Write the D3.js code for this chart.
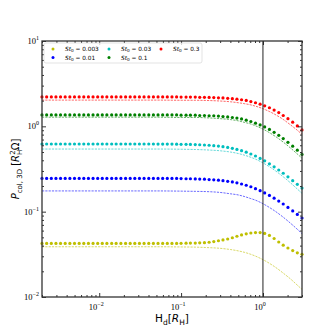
<!DOCTYPE html>
<html>
<head>
  <style>
    body { margin: 0; background: #fff; }
    text { font-family: "DejaVu Sans", sans-serif; }
    .tick-label { font-family: "Liberation Serif", "DejaVu Serif", serif; }
  </style>
  <script src="https://d3js.org/d3.v7.min.js"></script>
</head>
<body>
  <svg id="chart" width="336" height="336"></svg>
  <script>
    // Stokes numbers, colours (matplotlib y, b, c, g, r)
    const stValues = ["0.003", "0.01", "0.03", "0.1", "0.3"];
    const colors = ["#bfbf00", "#0000ff", "#00bfbf", "#008000", "#ff0000"];

    // H_d grid of the dotted series
    const hd = [0.00200, 0.00228, 0.00260, 0.00296, 0.00337, 0.00384, 0.00438, 0.00499, 0.00569, 0.00648,
      0.00738, 0.00841, 0.00958, 0.0109, 0.0124, 0.0142, 0.0161, 0.0184, 0.0210, 0.0239,
      0.0272, 0.0310, 0.0353, 0.0403, 0.0459, 0.0523, 0.0596, 0.0679, 0.0774, 0.0882,
      0.100, 0.115, 0.130, 0.149, 0.169, 0.193, 0.220, 0.251, 0.286, 0.325,
      0.371, 0.423, 0.481, 0.548, 0.625, 0.712, 0.811, 0.924, 1.05, 1.20,
      1.37, 1.56, 1.77, 2.02, 2.31, 2.63, 3.00];

    const dotsSt0003 = [0.0424, 0.0424, 0.0424, 0.0424, 0.0424, 0.0424, 0.0424, 0.0424, 0.0424, 0.0424,
      0.0424, 0.0424, 0.0424, 0.0424, 0.0424, 0.0424, 0.0424, 0.0424, 0.0424, 0.0424,
      0.0424, 0.0424, 0.0424, 0.0424, 0.0424, 0.0424, 0.0424, 0.0424, 0.0424, 0.0425,
      0.0426, 0.0427, 0.0428, 0.0429, 0.0431, 0.0433, 0.0438, 0.0446, 0.0456, 0.0466,
      0.0478, 0.0495, 0.0515, 0.0534, 0.0550, 0.0562, 0.0569, 0.0569, 0.0556, 0.0527,
      0.0485, 0.0441, 0.0405, 0.0375, 0.0350, 0.0329, 0.0316];
    const dotsSt001 = [0.245, 0.245, 0.245, 0.245, 0.245, 0.245, 0.245, 0.245, 0.245, 0.245,
      0.245, 0.245, 0.245, 0.245, 0.245, 0.245, 0.245, 0.245, 0.245, 0.245,
      0.245, 0.245, 0.245, 0.245, 0.245, 0.245, 0.245, 0.245, 0.245, 0.245,
      0.244, 0.243, 0.243, 0.242, 0.241, 0.240, 0.238, 0.236, 0.234, 0.231,
      0.227, 0.223, 0.218, 0.211, 0.204, 0.196, 0.186, 0.176, 0.166, 0.155,
      0.144, 0.133, 0.123, 0.112, 0.102, 0.0929, 0.0843];
    const dotsSt003 = [0.621, 0.621, 0.621, 0.621, 0.621, 0.621, 0.621, 0.621, 0.621, 0.621,
      0.621, 0.621, 0.621, 0.621, 0.621, 0.621, 0.621, 0.621, 0.621, 0.621,
      0.621, 0.621, 0.621, 0.621, 0.621, 0.620, 0.620, 0.620, 0.619, 0.618,
      0.616, 0.615, 0.613, 0.611, 0.608, 0.604, 0.600, 0.594, 0.587, 0.578,
      0.566, 0.553, 0.537, 0.519, 0.498, 0.474, 0.449, 0.421, 0.394, 0.364,
      0.335, 0.308, 0.282, 0.256, 0.231, 0.209, 0.189];
    const dotsSt01 = [1.36, 1.36, 1.36, 1.36, 1.36, 1.36, 1.36, 1.36, 1.36, 1.36,
      1.36, 1.36, 1.36, 1.36, 1.36, 1.36, 1.36, 1.36, 1.36, 1.36,
      1.36, 1.36, 1.36, 1.36, 1.36, 1.36, 1.36, 1.36, 1.36, 1.36,
      1.35, 1.35, 1.35, 1.35, 1.34, 1.34, 1.33, 1.33, 1.32, 1.30,
      1.29, 1.27, 1.25, 1.22, 1.18, 1.14, 1.09, 1.04, 0.984, 0.919,
      0.851, 0.784, 0.718, 0.650, 0.585, 0.525, 0.468];
    const dotsSt03 = [2.21, 2.21, 2.21, 2.21, 2.21, 2.21, 2.21, 2.21, 2.21, 2.21,
      2.21, 2.21, 2.21, 2.21, 2.21, 2.21, 2.21, 2.21, 2.21, 2.21,
      2.21, 2.21, 2.21, 2.21, 2.21, 2.21, 2.21, 2.21, 2.21, 2.21,
      2.20, 2.20, 2.20, 2.20, 2.19, 2.19, 2.18, 2.17, 2.16, 2.15,
      2.13, 2.11, 2.08, 2.05, 2.01, 1.95, 1.89, 1.82, 1.74, 1.65,
      1.55, 1.45, 1.34, 1.23, 1.12, 1.01, 0.907];

    // dashed reference curves
    const hdLine = [0.002, 0.005, 0.01, 0.02, 0.05, 0.1, 0.15, 0.2, 0.3, 0.4, 0.5,
      0.6, 0.7, 0.8, 1.0, 1.2, 1.5, 1.8, 2.2, 2.6, 3.0];
    const lineSt0003 = [0.0388, 0.0388, 0.0388, 0.0388, 0.0388, 0.0386, 0.0384, 0.0380, 0.0372, 0.0360, 0.0347,
      0.0333, 0.0318, 0.0303, 0.0274, 0.0248, 0.0215, 0.0188, 0.0161, 0.0139, 0.0123];
    const lineSt001 = [0.175, 0.175, 0.175, 0.175, 0.175, 0.174, 0.173, 0.172, 0.168, 0.162, 0.157,
      0.150, 0.143, 0.137, 0.124, 0.112, 0.0971, 0.0850, 0.0724, 0.0628, 0.0553];
    const lineSt003 = [0.542, 0.542, 0.542, 0.542, 0.542, 0.539, 0.535, 0.530, 0.517, 0.500, 0.480,
      0.458, 0.436, 0.415, 0.373, 0.336, 0.290, 0.253, 0.215, 0.186, 0.164];
    const lineSt01 = [1.28, 1.28, 1.28, 1.28, 1.28, 1.27, 1.27, 1.26, 1.23, 1.20, 1.16,
      1.11, 1.07, 1.02, 0.927, 0.843, 0.734, 0.645, 0.551, 0.479, 0.423];
    const lineSt03 = [2.03, 2.03, 2.03, 2.03, 2.03, 2.02, 2.02, 2.01, 1.98, 1.94, 1.89,
      1.84, 1.79, 1.73, 1.61, 1.49, 1.33, 1.19, 1.03, 0.908, 0.807];

    // tick values / labels (exponents)
    const xMajor = [0.01, 0.1, 1];
    const xMajorExp = ["\u22122", "\u22121", "0"];
    const xMinor = [0.002, 0.003, 0.004, 0.005, 0.006, 0.007, 0.008, 0.009,
      0.02, 0.03, 0.04, 0.05, 0.06, 0.07, 0.08, 0.09,
      0.2, 0.3, 0.4, 0.5, 0.6, 0.7, 0.8, 0.9, 2, 3];
    const yMajor = [0.01, 0.1, 1, 10];
    const yMajorExp = ["\u22122", "\u22121", "0", "1"];
    const yMinor = [0.02, 0.03, 0.04, 0.05, 0.06, 0.07, 0.08, 0.09,
      0.2, 0.3, 0.4, 0.5, 0.6, 0.7, 0.8, 0.9, 2, 3, 4, 5, 6, 7, 8, 9];

    const dotSeries = [dotsSt0003, dotsSt001, dotsSt003, dotsSt01, dotsSt03];
    const lineSeries = [lineSt0003, lineSt001, lineSt003, lineSt01, lineSt03];

    const svg = d3.select("#chart");
    const mLeft = 42, mRight = 302, mTop = 41, mBottom = 297;

    const x = d3.scaleLog().domain([0.002, 3]).range([mLeft, mRight]);
    const y = d3.scaleLog().domain([0.01, 10]).range([mBottom, mTop]);

    svg.append("defs").append("clipPath").attr("id", "clip")
      .append("rect").attr("x", mLeft).attr("y", mTop)
      .attr("width", mRight - mLeft).attr("height", mBottom - mTop);

    // dashed lines
    const line = d3.line().x(function (d) { return x(d[0]) }).y(function (d) { return y(d[1]) })
      .curve(d3.curveMonotoneX);
    const plot = svg.append("g").attr("clip-path", "url(#clip)");
    lineSeries.forEach(function (vals, k) {
      plot.append("path")
        .attr("d", line(hdLine.map(function (h, i) { return [h, vals[i]] })))
        .attr("fill", "none")
        .attr("stroke", colors[k])
        .attr("stroke-width", 0.7)
        .attr("stroke-dasharray", "2.2,1.1")
        .attr("opacity", 0.85);
    });

    // dots
    dotSeries.forEach(function (vals, k) {
      svg.append("g").attr("fill", colors[k])
        .selectAll("circle")
        .data(hd.map(function (h, i) { return [h, vals[i]] }))
        .enter()
        .append("circle")
        .attr("cx", function (d) { return x(d[0]) })
        .attr("cy", function (d) { return y(d[1]) })
        .attr("r", 1.6);
    });

    // vertical line at H_d = R_H
    svg.append("line")
      .attr("x1", x(1)).attr("x2", x(1))
      .attr("y1", mTop).attr("y2", mBottom)
      .attr("stroke", "#222").attr("stroke-width", 1);

    // ticks, inward on all four sides
    function ticks(axisFn, scale, vals, size, transform) {
      const g = svg.append("g").attr("transform", transform)
        .call(axisFn(scale).tickValues(vals).tickSizeInner(-size).tickSizeOuter(0).tickFormat(""));
      g.select(".domain").remove();
      g.selectAll("line").attr("stroke", "#000").attr("stroke-width", 0.8);
    }
    ticks(d3.axisBottom, x, xMajor, 4, "translate(0," + mBottom + ")");
    ticks(d3.axisBottom, x, xMinor, 2, "translate(0," + mBottom + ")");
    ticks(d3.axisTop, x, xMajor, 4, "translate(0," + mTop + ")");
    ticks(d3.axisTop, x, xMinor, 2, "translate(0," + mTop + ")");
    ticks(d3.axisLeft, y, yMajor, 4, "translate(" + mLeft + ",0)");
    ticks(d3.axisLeft, y, yMinor, 2, "translate(" + mLeft + ",0)");
    ticks(d3.axisRight, y, yMajor, 4, "translate(" + mRight + ",0)");
    ticks(d3.axisRight, y, yMinor, 2, "translate(" + mRight + ",0)");

    // frame
    svg.append("rect")
      .attr("x", mLeft).attr("y", mTop)
      .attr("width", mRight - mLeft).attr("height", mBottom - mTop)
      .attr("fill", "none").attr("stroke", "#333").attr("stroke-width", 1.3);

    // tick labels
    xMajor.forEach(function (v, i) {
      const t = svg.append("text").attr("class", "tick-label")
        .attr("x", x(v) - 3).attr("y", mBottom + 13)
        .attr("text-anchor", "middle").style("font-size", "8.5px");
      t.append("tspan").text("10");
      t.append("tspan").attr("dy", -4).style("font-size", "6px").text(xMajorExp[i]);
    });
    yMajor.forEach(function (v, i) {
      const t = svg.append("text").attr("class", "tick-label")
        .attr("x", mLeft - 3).attr("y", y(v) + 3)
        .attr("text-anchor", "end").style("font-size", "8.5px");
      t.append("tspan").text("10");
      t.append("tspan").attr("dy", -4).style("font-size", "6px").text(yMajorExp[i]);
    });

    // x label
    const xl = svg.append("text").attr("x", (mLeft + mRight) / 2).attr("y", 322)
      .attr("text-anchor", "middle").style("font-size", "10.5px");
    xl.append("tspan").text("H");
    xl.append("tspan").attr("dy", 2.5).style("font-size", "7.5px").text("d");
    xl.append("tspan").attr("dy", -2.5).text("[");
    xl.append("tspan").style("font-style", "italic").text("R");
    xl.append("tspan").attr("dy", 2.5).style("font-size", "7.5px").text("H");
    xl.append("tspan").attr("dy", -2.5).text("]");

    // y label
    const yl = svg.append("text")
      .attr("transform", "translate(19," + ((mTop + mBottom) / 2) + ") rotate(-90)")
      .attr("text-anchor", "middle").style("font-size", "10px");
    yl.append("tspan").style("font-style", "italic").text("P");
    yl.append("tspan").attr("dy", 2.5).style("font-size", "7px").text("col, 3D");
    yl.append("tspan").attr("dy", -2.5).text(" [");
    yl.append("tspan").style("font-style", "italic").text("R");
    yl.append("tspan").attr("dy", 2.5).style("font-size", "7px").text("H");
    yl.append("tspan").attr("dx", -5).attr("dy", -7).style("font-size", "7px").text("2");
    yl.append("tspan").attr("dy", 4.5).text("\u03A9]");

    // legend
    const lg = svg.append("g");
    lg.append("rect").attr("x", 44).attr("y", 43).attr("width", 158).attr("height", 20)
      .attr("rx", 2).attr("fill", "#fff").attr("fill-opacity", 0.8)
      .attr("stroke", "#d0d0d0").attr("stroke-width", 0.6);
    const legX = [53, 53, 109, 109, 161];
    const legY = [49, 57.5, 49, 57.5, 49];
    stValues.forEach(function (s, k) {
      lg.append("circle").attr("cx", legX[k]).attr("cy", legY[k]).attr("r", 1.5).attr("fill", colors[k]);
      const t = lg.append("text").attr("x", legX[k] + 12).attr("y", legY[k] + 2)
        .style("font-size", "5.8px");
      t.append("tspan").style("font-style", "italic").text("St");
      t.append("tspan").attr("dy", 1.2).style("font-size", "4.2px").text("0");
      t.append("tspan").attr("dy", -1.2).text(" = " + s);
    });
  </script>
</body>
</html>
